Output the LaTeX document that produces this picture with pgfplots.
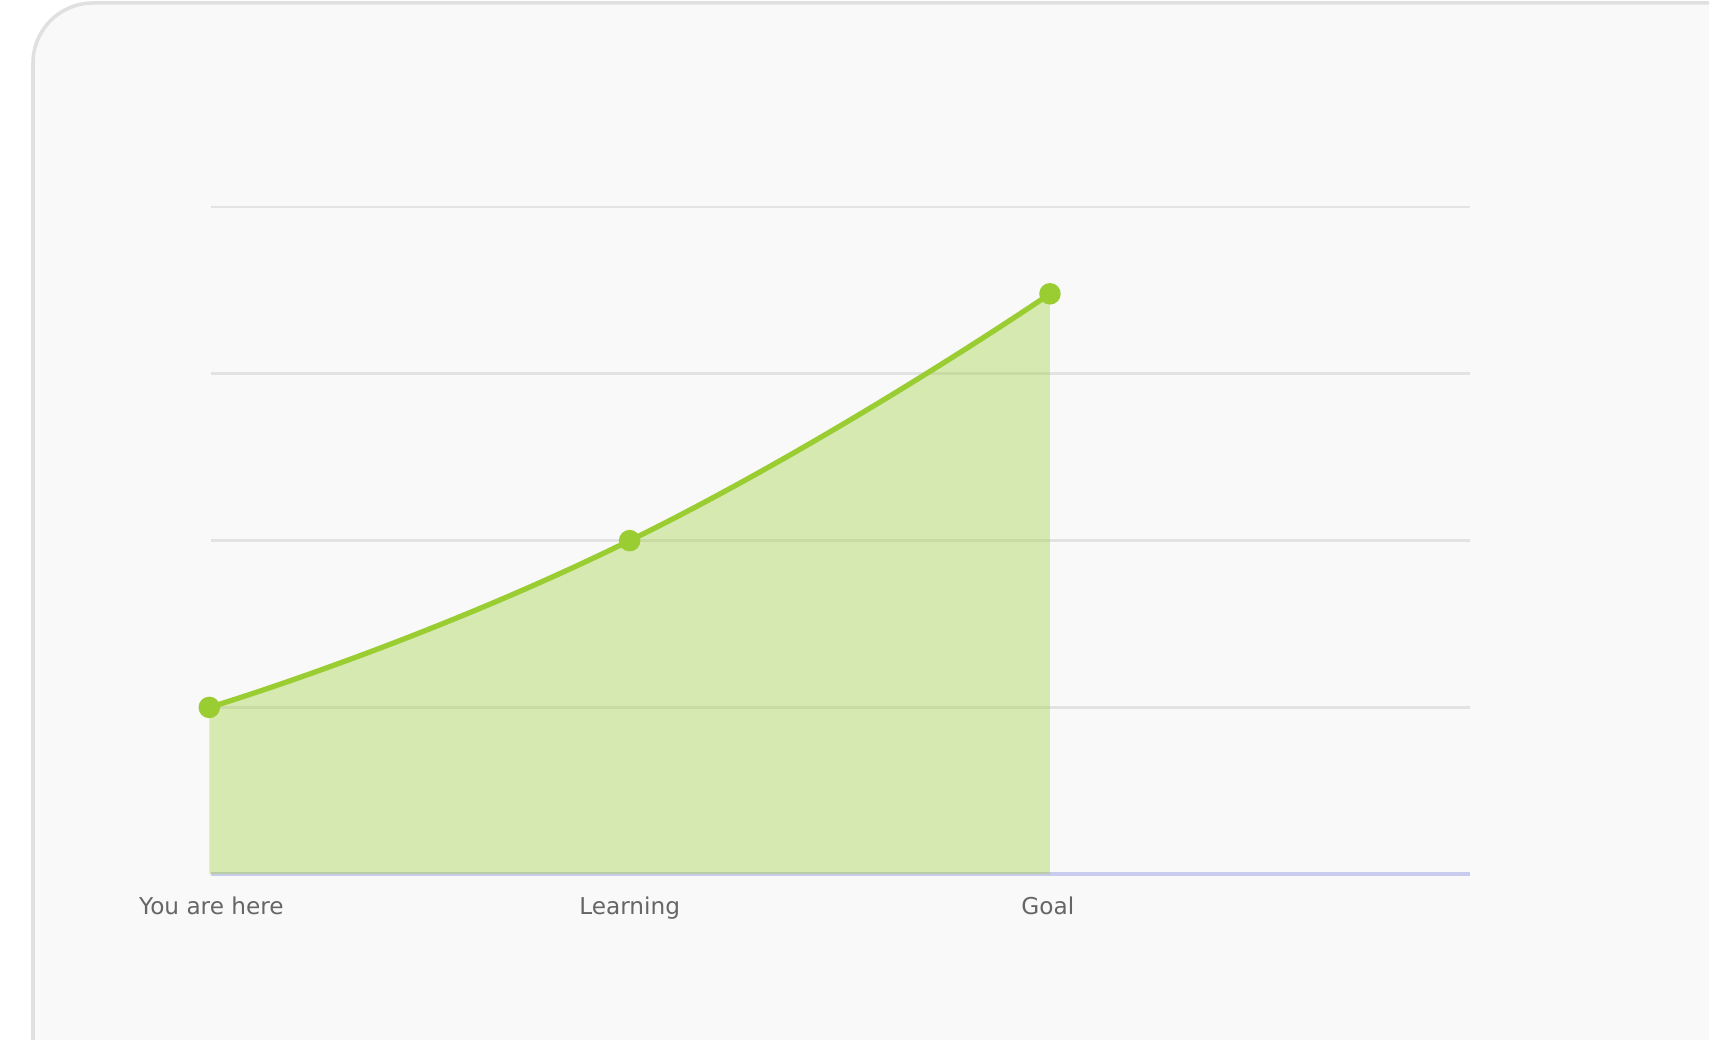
\documentclass[border=0pt]{standalone}
\usepackage{pgfplots}
\pgfplotsset{compat=1.18}
\usepackage{fontspec}
\setmainfont{DejaVu Sans}
\definecolor{cardbg}{HTML}{F9F9F9}
\definecolor{cardedge}{HTML}{E0E0E0}
\definecolor{gridgray}{HTML}{E3E3E3}
\definecolor{baseblue}{HTML}{CACCEE}
\definecolor{lime}{HTML}{9ACD32}
\definecolor{labelgray}{HTML}{666666}

\begin{document}
\begin{tikzpicture}
\path[use as bounding box] (0,0) rectangle (17.09,10.40);
\clip (0,0) rectangle (17.09,10.40);
\fill[white] (0,0) rectangle (17.09,10.40);
\draw[cardedge, fill=cardbg, line width=1pt, rounded corners=0.6cm]
  (0.33,-1) rectangle (18,10.37);
\begin{axis}[
  at={(2.093cm,1.658cm)}, anchor=south west,
  scale only axis, width=12.61cm, height=6.671cm,
  xmin=0, xmax=3, ymin=0, ymax=4,
  axis lines=none,
  clip=false,
  xtick=\empty, ytick=\empty,
]
% grid lines
\addplot[gridgray, line width=0.8pt, forget plot] coordinates {(0.005,1) (3,1)};
\addplot[gridgray, line width=0.8pt, forget plot] coordinates {(0.005,2) (3,2)};
\addplot[gridgray, line width=0.8pt, forget plot] coordinates {(0.005,3) (3,3)};
\addplot[gridgray, line width=0.8pt, forget plot] coordinates {(0.005,4) (3,4)};
\addplot[baseblue, line width=1pt, forget plot] coordinates {(0.005,0) (3,0)};
% area
\addplot[draw=none, fill=lime, fill opacity=0.36, smooth, tension=0.9] coordinates {
(0,1) (1,2) (2,3.48)
} \closedcycle;
% line
\addplot[lime, line width=1.5pt, smooth, tension=0.9, mark=*, mark size=2.3pt,
  mark options={fill=lime, draw=lime}] coordinates {
(0,1) (1,2) (2,3.48)
};
% category labels
\addplot[draw=none, mark=none, nodes near coords,
  point meta=explicit symbolic,
  every node near coord/.append style={font=\fontsize{6.6}{7}\selectfont,
    text=labelgray, anchor=base, yshift=-11.5pt, inner sep=0pt}]
  coordinates {
(0.005,0) [You are here]
(1,0) [Learning]
(1.995,0) [Goal]
};
\end{axis}
\end{tikzpicture}
\end{document}
